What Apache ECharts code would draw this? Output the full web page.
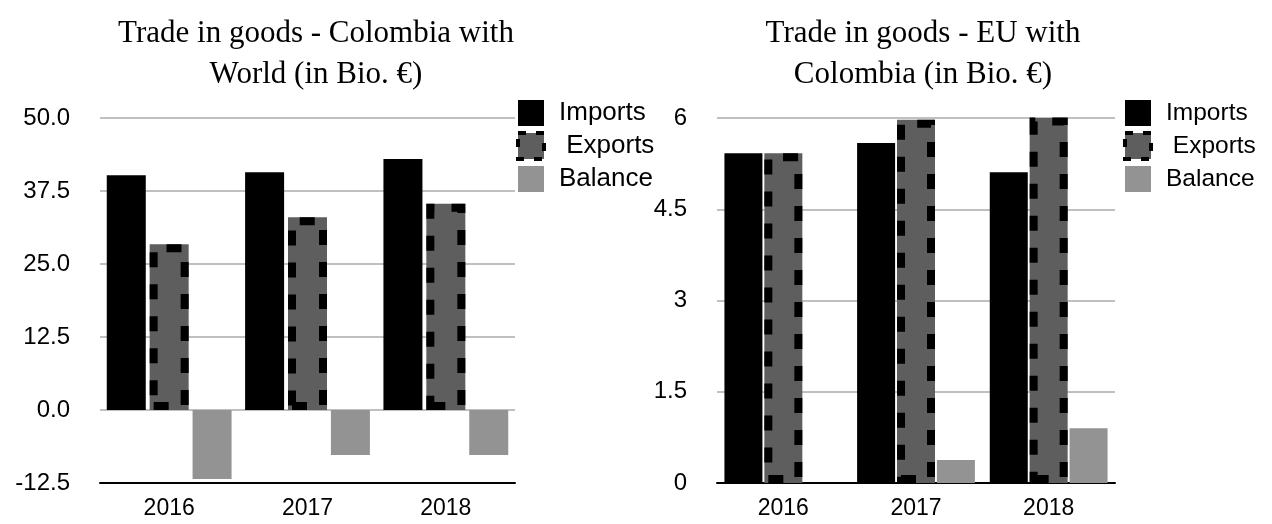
<!DOCTYPE html>
<html>
<head>
<meta charset="utf-8">
<script src="https://cdn.jsdelivr.net/npm/echarts@6/dist/echarts.min.js"></script>
<style>
  html, body { margin: 0; padding: 0; background: #fff; }
  #chart { width: 1272px; height: 524px; }
</style>
</head>
<body>
<div id="chart"></div>
<script>
// Years shown on both charts
const years = ['2016', '2017', '2018'];

// Colombia with World, in billion euro
const worldImports = [40.2, 40.7, 43.0];
const worldExports = [28.4, 33.0, 35.3];
const worldBalance = [-11.8, -7.7, -7.7];

// EU with Colombia, in billion euro
const euImports = [5.42, 5.59, 5.11];
const euExports = [5.42, 5.97, 6.01];
const euBalance = [0.0, 0.38, 0.90];

// Axis ranges and tick steps
const worldAxis = { min: -12.5, max: 50, interval: 12.5 };
const euAxis = { min: 0, max: 6, interval: 1.5 };

const seriesNames = ['Imports', 'Exports', 'Balance'];

const SANS = '"Liberation Sans", Arial, Helvetica, sans-serif';
const SERIF = '"Liberation Serif", "Times New Roman", serif';

const importsStyle = { color: '#000000' };
const exportsFill = { color: '#5e5e5e' };
// dashed frame drawn over the exports fill (stroke is kept inside the bar)
const exportsFrame = { color: 'rgba(0,0,0,0)', borderColor: '#000000', borderWidth: 8, borderType: [15, 17] };
const balanceStyle = { color: '#939393' };

function barSeries(name, data, style, xIndex, yIndex, width, gap) {
  return {
    type: 'bar', name: name, data: data,
    xAxisIndex: xIndex, yAxisIndex: yIndex,
    barWidth: width, barGap: gap,
    itemStyle: style,
    emphasis: { disabled: true },
    silent: true,
    animation: false
  };
}

// three bar columns per category; the frame layer uses a twin axis so its
// exports column lands exactly on the filled one
function group(imp, exp, bal, xIndex, yIndex, width, gap) {
  return [
    barSeries(seriesNames[0], imp, importsStyle, xIndex, yIndex, width, gap),
    barSeries(seriesNames[1], exp, exportsFill, xIndex, yIndex, width, gap),
    barSeries(seriesNames[2], bal, balanceStyle, xIndex, yIndex, width, gap)
  ];
}
function frameGroup(exp, xIndex, yIndex, width, gap) {
  return [
    barSeries(seriesNames[0], [], importsStyle, xIndex, yIndex, width, gap),
    barSeries(seriesNames[1], exp, exportsFrame, xIndex, yIndex, width, gap),
    barSeries(seriesNames[2], [], balanceStyle, xIndex, yIndex, width, gap)
  ];
}

function legendFor(left, fontSize) {
  return {
    orient: 'vertical', left: left, top: 100, padding: 0,
    itemWidth: 26, itemHeight: 26, itemGap: 5,
    icon: 'rect',
    selectedMode: false,
    textStyle: { fontFamily: SANS, fontSize: fontSize, color: '#000', padding: [0, 0, 0, 10] },
    formatter: function (n) { return n === 'Exports' ? ' ' + n : n; },
    data: [
      seriesNames[0],
      { name: seriesNames[1], itemStyle: { borderColor: '#000', borderWidth: 4, borderType: [8, 10] } },
      seriesNames[2]
    ]
  };
}

function valueAxis(gridIndex, ax, fmt) {
  return {
    type: 'value', gridIndex: gridIndex,
    min: ax.min, max: ax.max, interval: ax.interval,
    axisLine: { show: false }, axisTick: { show: false },
    axisLabel: { margin: 30, fontFamily: SANS, fontSize: 24, color: '#000', formatter: fmt },
    splitLine: { show: true, lineStyle: { color: '#c0c0c0', width: 2 } }
  };
}

function categoryAxis(gridIndex, visible) {
  return {
    type: 'category', gridIndex: gridIndex, data: years,
    show: visible,
    position: 'bottom',
    axisLine: { onZero: false, lineStyle: { color: '#000', width: 2 } },
    axisTick: { show: false },
    axisLabel: { margin: 14, fontFamily: SANS, fontSize: 23, color: '#000' }
  };
}

const chart = echarts.init(document.getElementById('chart'), null, { renderer: 'canvas' });

chart.setOption({
  backgroundColor: '#ffffff',
  animation: false,
  title: [
    {
      text: 'Trade in goods - Colombia with\nWorld (in Bio. €)',
      left: 311, top: 8, textAlign: 'center',
      textStyle: { fontFamily: SERIF, fontWeight: 'normal', fontSize: 31, lineHeight: 41, color: '#000' }
    },
    {
      text: 'Trade in goods - EU with\nColombia (in Bio. €)',
      left: 918, top: 8, textAlign: 'center',
      textStyle: { fontFamily: SERIF, fontWeight: 'normal', fontSize: 31, lineHeight: 41, color: '#000' }
    }
  ],
  legend: [legendFor(516, 26), legendFor(1123, 24.5)],
  grid: [
    { left: 100, right: 757, top: 118, bottom: 41 },
    { left: 717, right: 157, top: 118, bottom: 41 }
  ],
  xAxis: [categoryAxis(0, true), categoryAxis(1, true), categoryAxis(0, false), categoryAxis(1, false)],
  yAxis: [
    valueAxis(0, worldAxis, function (v) { return v.toFixed(1); }),
    valueAxis(1, euAxis, null)
  ],
  series: [].concat(
    group(worldImports, worldExports, worldBalance, 0, 0, 39, '10%'),
    group(euImports, euExports, euBalance, 1, 1, 38, '5%'),
    frameGroup(worldExports, 2, 0, 39, '10%'),
    frameGroup(euExports, 3, 1, 38, '5%')
  )
});
</script>
</body>
</html>
